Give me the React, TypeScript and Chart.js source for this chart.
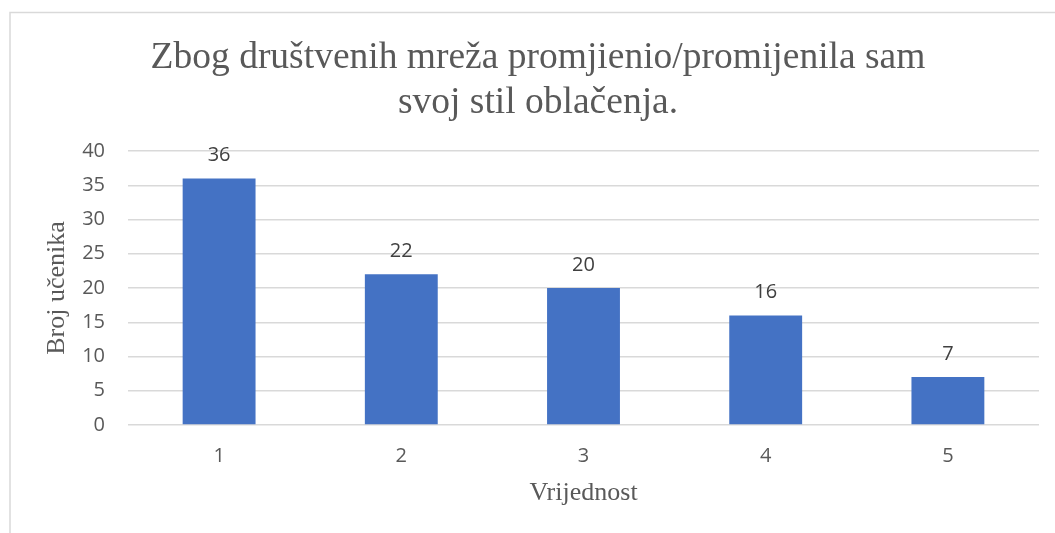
import React, { useEffect, useRef } from "react";
import { Chart, registerables } from "chart.js";

Chart.register(...registerables);

const categories: string[] = ["1", "2", "3", "4", "5"];
const counts: number[] = [36, 22, 20, 16, 7];
const titleLines: string[] = ["Zbog društvenih mreža promjienio/promijenila sam", "svoj stil oblačenja."];
const yAxisTitle = "Broj učenika";
const xAxisTitle = "Vrijednost";
const yMin = 0;
const yMax = 40;
const yStep = 5;

const framePlugin = {
  id: "frame",
  beforeDraw(chart: any) {
    const ctx = chart.ctx;
    ctx.save();
    ctx.fillStyle = "#ffffff";
    ctx.fillRect(0, 0, chart.width, chart.height);
    ctx.strokeStyle = "#d9d9d9";
    ctx.lineWidth = 1.5;
    ctx.strokeRect(10, 12.5, chart.width + 50, chart.height + 50);
    ctx.restore();
  },
};

const labelPlugin = {
  id: "barLabels",
  afterDatasetsDraw(chart: any) {
    const ctx = chart.ctx;
    const meta = chart.getDatasetMeta(0);
    const data = chart.data.datasets[0].data;
    ctx.save();
    ctx.font = "20px 'Open Sans'";
    ctx.fillStyle = "#404040";
    ctx.textAlign = "center";
    ctx.textBaseline = "alphabetic";
    meta.data.forEach((bar: any, i: number) => {
      ctx.fillText(String(data[i]), bar.x, bar.y - 17);
    });
    ctx.restore();
  },
};

export default function App() {
  const ref = useRef<HTMLCanvasElement | null>(null);
  useEffect(() => {
    document.body.style.margin = "0";
    const canvas = ref.current;
    if (!canvas) return;
    const chart = new Chart(canvas, {
      type: "bar",
      data: {
        labels: categories,
        datasets: [
          {
            data: counts,
            backgroundColor: "#4472C4",
            barPercentage: 0.4,
            categoryPercentage: 1,
          },
        ],
      },
      options: {
        responsive: false,
        animation: false,
        devicePixelRatio: 1,
        layout: { padding: { left: 37, right: 16, top: 0, bottom: 0 } },
        plugins: {
          legend: { display: false },
          tooltip: { enabled: false },
          title: {
            display: true,
            text: titleLines,
            color: "#595959",
            font: { family: "'Liberation Serif'", size: 37.5, weight: "normal", lineHeight: 1.2 },
            padding: { top: 35.5, bottom: 25.5 },
          },
        },
        scales: {
          x: {
            grid: { display: false },
            border: { display: false },
            ticks: { color: "#595959", font: { family: "'Open Sans'", size: 20 }, padding: 11 },
            title: {
              display: true,
              text: xAxisTitle,
              color: "#595959",
              font: { family: "'Liberation Serif'", size: 26, weight: "normal", lineHeight: 1.2 },
              padding: { top: 0, bottom: 24 },
            },
            afterFit(scale: any) {
              scale.height = 108;
            },
          },
          y: {
            min: yMin,
            max: yMax,
            grid: { color: "#d9d9d9", lineWidth: 1.5, drawTicks: false },
            border: { display: false },
            ticks: {
              stepSize: yStep,
              color: "#595959",
              font: { family: "'Open Sans'", size: 20 },
              padding: 23,
            },
            title: {
              display: true,
              text: yAxisTitle,
              color: "#595959",
              font: { family: "'Liberation Serif'", size: 26, weight: "normal", lineHeight: 1.2 },
              padding: { top: 5, bottom: 0 },
            },
            afterFit(scale: any) {
              scale.width = 91;
            },
          },
        },
      },
      plugins: [framePlugin, labelPlugin],
    });
    return () => chart.destroy();
  }, []);
  return (
    <div style={{ position: "fixed", left: 0, top: 0, width: 1055, height: 533 }}>
      <canvas ref={ref} width={1055} height={533} style={{ width: 1055, height: 533 }} />
    </div>
  );
}
